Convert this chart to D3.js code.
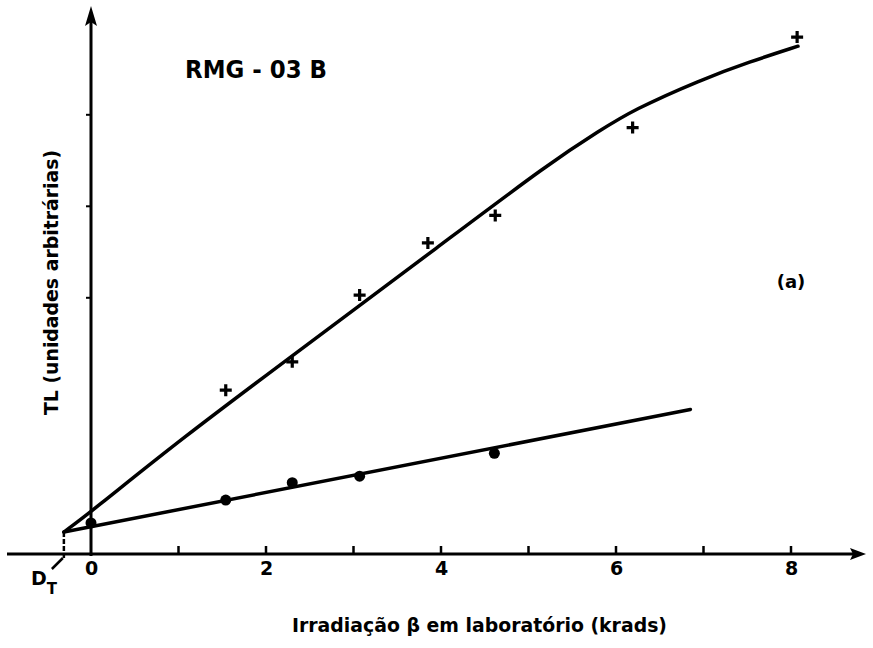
<!DOCTYPE html>
<html>
<head>
<meta charset="utf-8">
<script src="https://cdn.jsdelivr.net/npm/d3@7"></script>
<style>
  html, body { margin: 0; padding: 0; background: #fff; }
  svg { display: block; }
  text { font-family: "DejaVu Sans", "Liberation Sans", Arial, sans-serif; font-weight: bold; fill: #000; }
</style>
</head>
<body>
<svg id="chart" width="873" height="648"></svg>
<script>
// ---- data ----
const xMajorTicks = [0, 2, 4, 6, 8];
const xMinorTicks = [1, 3, 5, 7];
const yTickMarks = [28, 38, 48];

const crossX = [1.54, 2.30, 3.07, 3.85, 4.62, 6.19, 8.07];
const crossY = [17.9, 21.0, 28.3, 34.0, 37.0, 46.6, 56.5];

const dotX = [0, 1.54, 2.30, 3.07, 4.61];
const dotY = [3.4, 5.9, 7.8, 8.5, 11.0];

const upperCurveX = [-0.31, 0, 1.02, 2.39, 4.0, 5.25, 5.82, 6.19, 6.96, 7.53, 8.08];
const upperCurveY = [2.4, 4.6, 12.5, 22.3, 33.8, 42.8, 46.3, 48.5, 51.8, 53.8, 55.5];

const lowerLineX = [-0.31, 6.85];
const lowerLineY = [2.4, 15.8];

const dT = { x: -0.31, y: 2.4 };

const titleText = "RMG - 03 B";
const xLabel = "Irradiação β em laboratório (krads)";
const yLabel = "TL (unidades arbitrárias)";
const panelLabel = "(a)";

// ---- scales ----
const svg = d3.select("#chart");
const x = d3.scaleLinear().domain([0, 8]).range([91, 791]);
const y = d3.scaleLinear().domain([0, 60]).range([554, 5]);

const ink = "#000";

// axes lines
svg.append("line").attr("x1", 7).attr("x2", 858).attr("y1", y(0)).attr("y2", y(0))
  .attr("stroke", ink).attr("stroke-width", 3);
svg.append("line").attr("x1", x(0)).attr("x2", x(0)).attr("y1", y(0) + 2).attr("y2", 14)
  .attr("stroke", ink).attr("stroke-width", 3);
// arrow heads
svg.append("path").attr("d", `M866,${y(0)} L850,${y(0) - 6} L853,${y(0)} L850,${y(0) + 6} Z`).attr("fill", ink);
svg.append("path").attr("d", `M${x(0)},6 L${x(0) - 6},26 L${x(0)},22 L${x(0) + 6},26 Z`).attr("fill", ink);

// x ticks
const xAxis = d3.axisBottom(x).tickValues(xMajorTicks).tickSize(0).tickPadding(8).tickFormat(d3.format("d"));
const gx = svg.append("g").attr("transform", `translate(0,${y(0)})`).call(xAxis);
gx.select(".domain").remove();
gx.selectAll("text").attr("font-size", 19).attr("font-weight", "bold")
  .attr("font-family", "DejaVu Sans, Liberation Sans, Arial, sans-serif").attr("fill", ink);
svg.selectAll(".tickMajor").data(xMajorTicks.concat(xMinorTicks).filter(d => d !== 0)).enter().append("line")
  .attr("x1", d => x(d)).attr("x2", d => x(d)).attr("y1", y(0)).attr("y2", y(0) - 8)
  .attr("stroke", ink).attr("stroke-width", 2.5);

// y tick marks (small)
svg.selectAll(".ytick").data(yTickMarks).enter().append("line")
  .attr("x1", x(0) - 5).attr("x2", x(0)).attr("y1", d => y(d)).attr("y2", d => y(d))
  .attr("stroke", ink).attr("stroke-width", 2);

// upper curve
const upperPts = upperCurveX.map((v, i) => [v, upperCurveY[i]]);
svg.append("path").datum(upperPts)
  .attr("d", d3.line().x(d => x(d[0])).y(d => y(d[1])).curve(d3.curveBasis))
  .attr("fill", "none").attr("stroke", ink).attr("stroke-width", 3.5).attr("stroke-linecap", "round");

// lower line
const lowerPts = lowerLineX.map((v, i) => [v, lowerLineY[i]]);
svg.append("path").datum(lowerPts)
  .attr("d", d3.line().x(d => x(d[0])).y(d => y(d[1])))
  .attr("fill", "none").attr("stroke", ink).attr("stroke-width", 3.5).attr("stroke-linecap", "round");

// D_T vertical drop
svg.append("line").attr("x1", x(dT.x)).attr("x2", x(dT.x)).attr("y1", y(dT.y)).attr("y2", y(0) + 4)
  .attr("stroke", ink).attr("stroke-width", 2.5).attr("stroke-dasharray", "5,2");
// leader to label
svg.append("line").attr("x1", x(dT.x) - 1).attr("x2", x(dT.x) - 12).attr("y1", y(0) + 4).attr("y2", y(0) + 15)
  .attr("stroke", ink).attr("stroke-width", 2.5);

// crosses
const crossPts = crossX.map((v, i) => [v, crossY[i]]);
svg.selectAll(".cross").data(crossPts).enter().append("path")
  .attr("d", d => { const cx = x(d[0]), cy = y(d[1]); return `M${cx - 6},${cy} H${cx + 6} M${cx},${cy - 6} V${cy + 6}`; })
  .attr("stroke", ink).attr("stroke-width", 3.2).attr("fill", "none");

// dots
const dotPts = dotX.map((v, i) => [v, dotY[i]]);
svg.selectAll(".dot").data(dotPts).enter().append("circle")
  .attr("cx", d => x(d[0])).attr("cy", d => y(d[1])).attr("r", 5.5).attr("fill", ink);

// texts
svg.append("text").attr("x", 185).attr("y", 78).attr("font-size", 25)
  .attr("textLength", 142).attr("lengthAdjust", "spacingAndGlyphs").text(titleText);
svg.append("text").attr("x", 292).attr("y", 632).attr("font-size", 19)
  .attr("textLength", 375).attr("lengthAdjust", "spacingAndGlyphs").text(xLabel);
svg.append("text").attr("transform", "translate(58,415) rotate(-90)").attr("font-size", 19)
  .attr("textLength", 265).attr("lengthAdjust", "spacingAndGlyphs").text(yLabel);
svg.append("text").attr("x", 791).attr("y", 288).attr("font-size", 18).attr("text-anchor", "middle").text(panelLabel);

const dl = svg.append("text").attr("x", 31).attr("y", 585).attr("font-size", 19);
dl.append("tspan").text("D");
dl.append("tspan").attr("dy", 9).attr("font-size", 15).text("T");
</script>
</body>
</html>
